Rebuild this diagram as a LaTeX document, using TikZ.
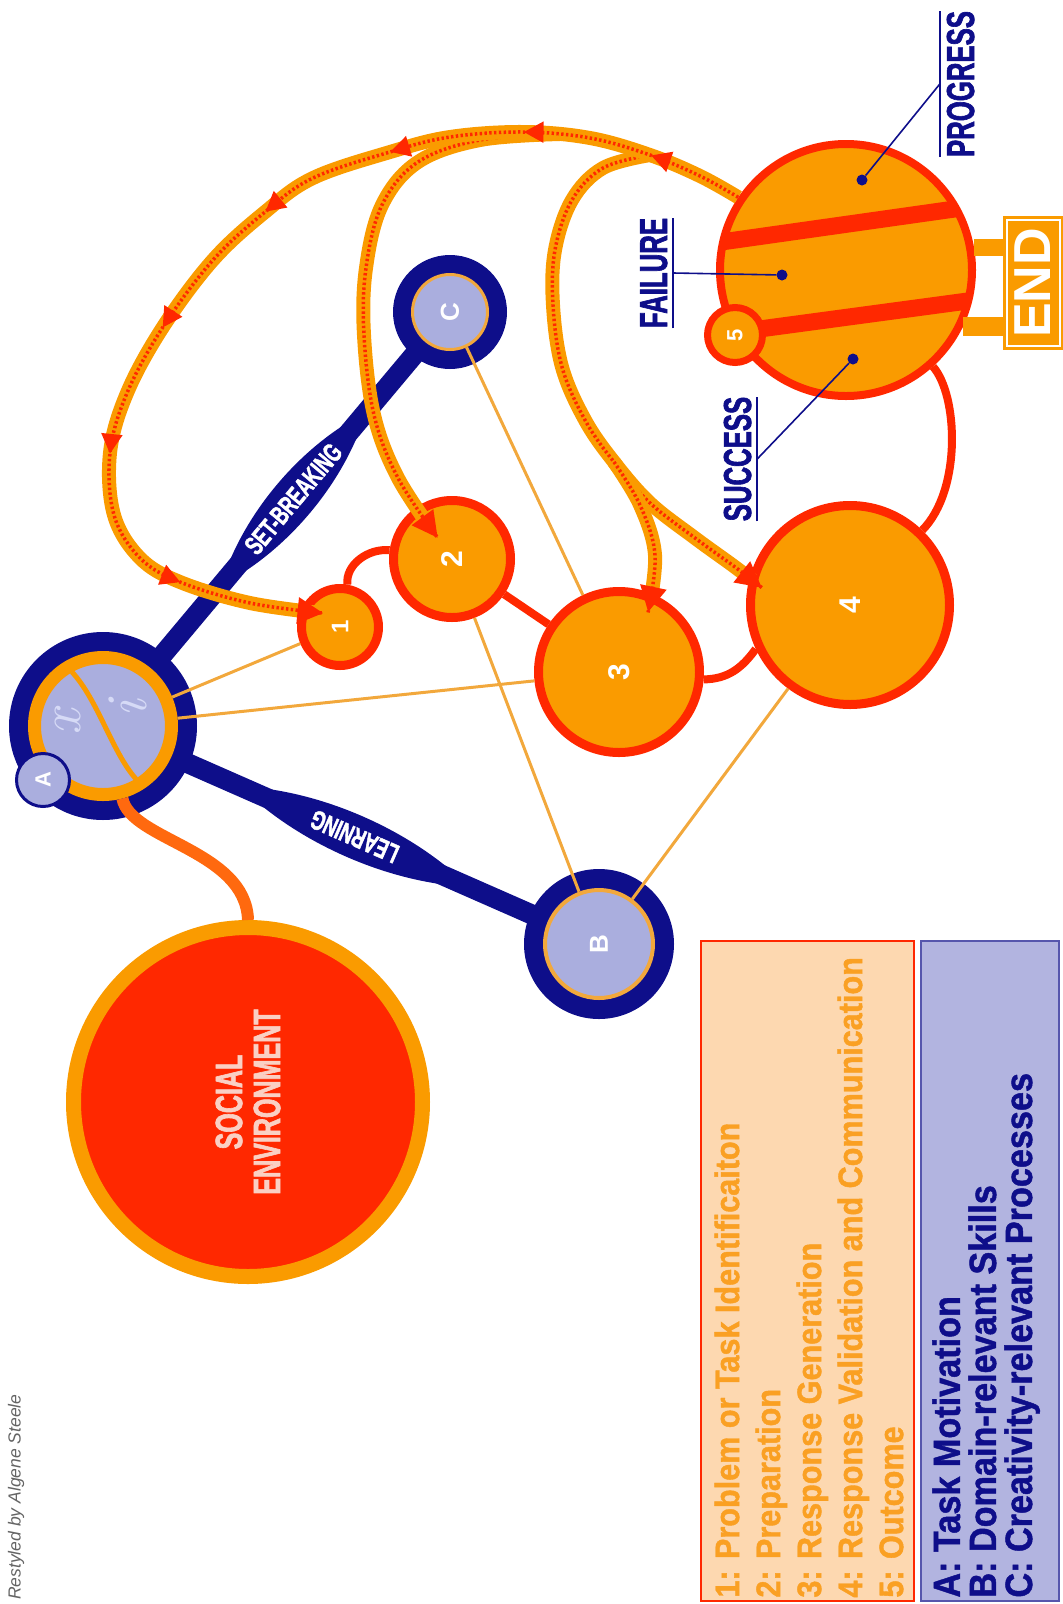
\documentclass[tikz,border=0pt]{standalone}
\usepackage{fontspec}
\usepackage{graphicx}
\usetikzlibrary{calc,arrows.meta,decorations.markings}
\newfontfamily\plainsans{Liberation Sans}
\newfontfamily\condsans{Liberation Sans}[FakeStretch=0.66,FakeBold=1.6]
\newfontfamily\legendsans{Liberation Sans}[FakeStretch=0.9,FakeBold=1.2]
\definecolor{navy}{RGB}{14,14,138}
\definecolor{lav}{RGB}{170,174,222}
\definecolor{orng}{RGB}{250,155,0}
\definecolor{hotred}{RGB}{255,40,0}
\definecolor{thinor}{RGB}{242,168,60}
\definecolor{envred}{RGB}{255,105,15}
\definecolor{peach}{RGB}{253,216,176}
\definecolor{legblue}{RGB}{178,180,224}
\definecolor{legor}{RGB}{250,160,35}
\definecolor{paletxt}{RGB}{250,208,196}
\definecolor{glyphc}{RGB}{214,218,246}
\definecolor{credgray}{RGB}{100,100,100}
\pgfdeclarelayer{background}
\pgfsetlayers{background,main}

\begin{document}
\begin{tikzpicture}[x=1pt,y=-1pt,
    ring/.style={circle,fill=navy,inner sep=0pt,outer sep=0pt},
    core/.style={circle,fill=lav,draw=thinor,inner sep=0pt},
    letter/.style={text=white,font=\plainsans\bfseries\fontsize{26}{26}\selectfont},
    stage/.style={circle,fill=orng,draw=hotred,line width=9pt,inner sep=0pt,text=white,
        font=\plainsans\bfseries\fontsize{30}{30}\selectfont},
    bluelink/.style={navy,line width=20pt},
    spindle/.style={fill=navy},
    linklabel/.style={text=white,inner sep=0pt,font=\condsans\bfseries\fontsize{27}{27}\selectfont},
    thinlink/.style={thinor,line width=3pt},
    chain/.style={hotred,line width=8pt},
    midtip/.tip={Triangle[length=20pt,width=20pt,color=hotred]},
    endtip/.tip={Triangle[length=26pt,width=25pt,color=hotred]},
    loopband/.style={draw=orng,line width=14pt,-endtip,
        postaction={draw=hotred,line width=3.5pt,dash pattern=on 2.4pt off 2.4pt,-}},
    tipat/.style={postaction={decorate,decoration={markings,
        mark=at position #1 with {\arrow{midtip}}}}},
    dot/.style={circle,fill=navy,inner sep=0pt,minimum size=11pt},
    leader/.style={navy,line width=1.6pt},
    tag/.style={rotate=90,text=navy,inner xsep=0pt,inner ysep=6pt,text height=28pt,text depth=0pt,
        font=\condsans\bfseries\fontsize{39}{39}\selectfont}]

    \useasboundingbox (0,0) rectangle (1063,1604);

    % the social environment
    \node[circle,fill=hotred,draw=orng,line width=15pt,minimum size=349pt,inner sep=0pt] (social) at (248,1102) {};
    \node[rotate=90,align=center,text=paletxt,font=\condsans\bfseries\fontsize{38}{38}\selectfont] (socialtext) at (social) {SOCIAL\\ENVIRONMENT};

    % task motivation
    \node[ring,minimum size=188pt] (mot) at (103,726) {};
    \node[core,draw=orng,line width=13pt,minimum size=137pt] (motin) at (mot) {};
    \draw[orng,line width=5pt] (72,672) .. controls (98,700) and (112,752) .. (136,779);
    \node[rotate=90,text=glyphc,font=\itshape\fontsize{58}{58}\selectfont] (xglyph) at (68,722) {x};
    \node[rotate=90,text=glyphc,font=\itshape\fontsize{58}{58}\selectfont] (iglyph) at (128,709) {i};
    \node[circle,fill=lav,draw=navy,line width=3pt,minimum size=53pt,inner sep=0pt,letter,
        font=\plainsans\bfseries\fontsize{22}{22}\selectfont] (motA) at (43,780) {\rotatebox{90}{A}};

    % link to the social environment
    \draw[envred,line width=12pt] (motin.285) .. controls (130,840) and (246,850) .. (social.north);

    % skills and creativity
    \node[ring,minimum size=150pt] (skill) at (599,944) {};
    \node[core,line width=4pt,minimum size=108pt,letter] (skillin) at (skill) {\rotatebox{90}{B}};
    \node[ring,minimum size=114pt] (crea) at (450,312) {};
    \node[core,line width=3pt,minimum size=75pt,letter] (creain) at (crea) {\rotatebox{90}{C}};

    % the two blue links with their labels
    \begin{pgfonlayer}{background}
        \draw[bluelink] (mot.center) -- (crea.center);
        \draw[bluelink] (mot.center) -- (skill.center);
    \end{pgfonlayer}
    \path (mot) -- coordinate[pos=0.52] (sbmid) (crea);
    \path (mot) -- coordinate[pos=0.485] (lnmid) (skill);
    \begin{scope}[shift={(sbmid)},rotate=50]
        \fill[spindle] (-113,0) .. controls (-45,29) and (45,29) .. (113,0)
            .. controls (45,-29) and (-45,-29) .. cycle;
    \end{scope}
    \node[linklabel,rotate=50] (sblabel) at (sbmid) {SET-BREAKING};
    \begin{scope}[shift={(lnmid)},rotate=-23.7]
        \fill[spindle] (-125,0) .. controls (-50,29) and (50,29) .. (125,0)
            .. controls (50,-29) and (-50,-29) .. cycle;
    \end{scope}
    \node[linklabel,rotate=156.3] (lnlabel) at (lnmid) {LEARNING};

    % the stages
    \node[stage,minimum size=77pt,font=\plainsans\bfseries\fontsize{24}{24}\selectfont] (p1) at (340,627) {\rotatebox{90}{1}};
    \node[stage,minimum size=117pt] (p2) at (452,559) {\rotatebox{90}{2}};
    \node[stage,minimum size=161pt] (p3) at (619,672) {\rotatebox{90}{3}};
    \node[stage,minimum size=199pt] (p4) at (850,605) {\rotatebox{90}{4}};
    \node[stage,line width=8pt,minimum size=252pt] (p5) at (846,270) {};

    % stripes of the outcome
    \begin{scope}
        \clip (p5.center) circle[radius=126pt];
        \draw[hotred,line width=17pt] (700,245) -- (990,204);
        \draw[hotred,line width=17pt] (700,337) -- (990,298);
    \end{scope}
    \node[stage,line width=7pt,minimum size=55pt,font=\plainsans\bfseries\fontsize{22}{22}\selectfont] (p5tag) at (735,335) {\rotatebox{90}{5}};

    % chain of stages
    \draw[chain] (p1.80) .. controls (345,565) and (368,548) .. (p2.172);
    \draw[chain] (p2) -- (p3);
    \draw[chain] (p3.-5) .. controls (728,679) and (742,668) .. (p4.205);
    \draw[chain] (p5.-48) .. controls (958,395) and (962,490) .. (p4.46);

    % thin links from the components
    \draw[thinlink] (motin) -- (p1);
    \draw[thinlink] (motin) -- (p3);
    \draw[thinlink] (skillin) -- (p2);
    \draw[thinlink] (skillin) -- (p4);
    \draw[thinlink] (creain) -- (p3);

    % feedback loops
    \coordinate (fork2) at (560,134);
    \coordinate (fork3) at (650,155);
    \coordinate (fork34) at (614,462);
    \coordinate (tip1) at ($(p1)!0.5!(p1.140)$);
    \coordinate (tip2) at ($(p2)!0.4!(p2.124)$);
    \coordinate (tip3) at ($(p3)!0.78!(p3.64)$);
    \coordinate (tip4) at ($(p4)!0.86!(p4.169)$);
    \draw[loopband] plot[smooth,tension=0.6] coordinates {(fork3) (603,168) (572,200) (555,250) (553,305)
        (562,367) (585,420) (614,462) (650,503) (695,538) (735,567) (tip4)};
    \draw[loopband] plot[smooth,tension=0.6] coordinates {(fork34) (640,505) (655,555) (tip3)};
    \draw[loopband] plot[smooth,tension=0.6] coordinates {(fork2) (480,140) (418,162) (382,205) (366,268)
        (364,335) (374,415) (398,478) (tip2)};
    \draw[loopband,tipat/.list={0.088,0.206,0.329,0.456,0.597,0.722,0.867}]
        plot[smooth,tension=0.6] coordinates {(p5.146) (700,176) (650,155) (590,138) (523,132) (450,137)
        (390,152) (313,178) (265,212) (213,260) (163,327) (127,393) (110,453) (114,515) (140,558)
        (180,582) (250,603) (tip1)};

    % labels of the outcome
    \node[dot] (pdot) at (862,180) {};
    \node[dot] (fdot) at (782,275) {};
    \node[dot] (sdot) at (853,359) {};
    \node[tag] (progress) at (960,84) {PROGRESS};
    \node[tag] (failure) at (653,273) {FAILURE};
    \node[tag] (success) at (737,459) {SUCCESS};
    \draw[leader] (pdot) -- (progress.north);
    \draw[leader] (progress.north west) -- (progress.north east);
    \draw[leader] (fdot) -- (failure.south);
    \draw[leader] (failure.south west) -- (failure.south east);
    \draw[leader] (sdot) -- (success.south);
    \draw[leader] (success.south west) -- (success.south east);

    % the end box
    \node[rotate=90,fill=orng,draw=orng,double=white,double distance=2pt,line width=3pt,
        minimum width=126pt,minimum height=53pt,inner sep=0pt,text=white,
        font=\plainsans\bfseries\fontsize{52}{52}\selectfont] (finish) at (1033,283) {END};
    \draw[orng,line width=17pt] (p5.10) -- (p5.10 -| finish.north);
    \draw[orng,line width=19pt] (p5.-26) -- (p5.-26 -| finish.north);

    % legends
    \node[rotate=90,fill=peach,draw=hotred,line width=1.5pt,minimum width=660pt,minimum height=213pt,inner sep=0pt] (stagebox) at (807.5,1271) {};
    \node[rotate=90,anchor=north west,align=left,inner sep=0pt,text=legor,
        font=\legendsans\bfseries\fontsize{34}{41}\selectfont] (stagelist) at ($(stagebox.north west)+(14,-4)$)
        {1: Problem or Task Identificaiton\\2: Preparation\\3: Response Generation\\4: Response Validation and Communication\\5: Outcome};
    \node[rotate=90,fill=legblue,draw=navy!70,line width=1.5pt,minimum width=660pt,minimum height=138pt,inner sep=0pt] (compbox) at (990,1271) {};
    \node[rotate=90,anchor=north west,align=left,inner sep=0pt,text=navy,
        font=\legendsans\bfseries\fontsize{38}{36}\selectfont] (complist) at ($(compbox.north west)+(12,-4)$)
        {A: Task Motivation\\B: Domain-relevant Skills\\C: Creativity-relevant Processes};

    % credit
    \node[rotate=90,anchor=west,inner sep=0pt,text=credgray,
        font=\plainsans\itshape\fontsize{17.5}{17.5}\selectfont] (credit) at (16,1600) {Restyled by Algene Steele};
\end{tikzpicture}
\end{document}
